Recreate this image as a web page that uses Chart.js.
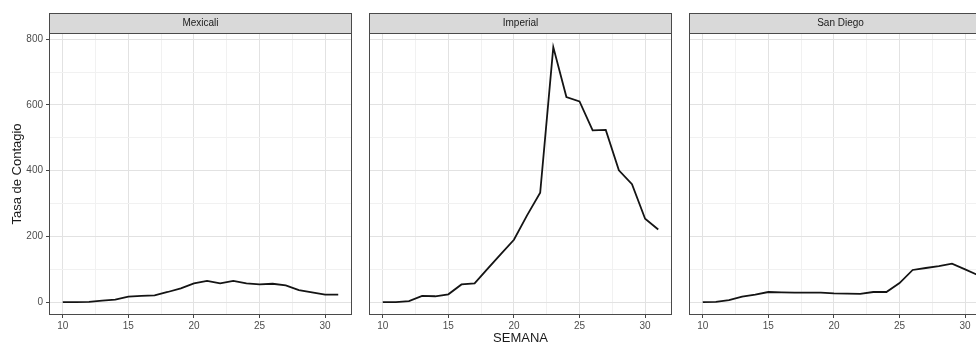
<!DOCTYPE html>
<html>
<head>
<meta charset="utf-8">
<script src="https://cdn.jsdelivr.net/npm/chart.js@4.4.1/dist/chart.umd.min.js"></script>
<style>
  html, body { margin: 0; padding: 0; background: #fff; overflow: hidden; width: 976px; height: 345px; }
  canvas { position: absolute; top: 0; }
</style>
</head>
<body>
<canvas id="panel-mexicali" width="360" height="345" style="left:0px"></canvas>
<canvas id="panel-imperial" width="320" height="345" style="left:360px"></canvas>
<canvas id="panel-sandiego" width="320" height="345" style="left:680px"></canvas>
<script>
// semanas epidemiologicas
var semanas = [10,11,12,13,14,15,16,17,18,19,20,21,22,23,24,25,26,27,28,29,30,31];
var mexicali = [0,0,1,5,8,17,19,21,31,42,57,65,57,65,57,54,56,51,37,30,23,23];
var imperial = [0,0,3,19,18,24,54,57,102,146,190,264,333,776,624,611,523,524,401,359,254,221];
var sanDiego = [0,1,6,17,23,31,30,29,29,29,27,26,25,31,31,58,98,104,110,117,100,82];

var panelNames = ['Mexicali','Imperial','San Diego'];
var xTicks = [10,15,20,25,30];
var yTicks = [0,200,400,600,800];
var yTitle = 'Tasa de Contagio';
var xTitle = 'SEMANA';

var X_MIN = 8.95, X_MAX = 32.05;
var Y_MIN = -39, Y_MAX = 819;
var FONT = '"Liberation Sans", Arial, sans-serif';

function withMinor(ticks){
  var out = [];
  var step = ticks[1] - ticks[0];
  for (var i = 0; i < ticks.length; i++) {
    out.push(ticks[i]);
    if (i < ticks.length - 1) out.push(ticks[i] + step/2);
  }
  return out;
}

function isMajor(list, v){
  return list.indexOf(v) !== -1;
}

var stripPlugin = {
  id: 'strip',
  afterDraw: function(chart){
    var ctx = chart.ctx;
    var a = chart.chartArea;
    var name = chart.options.plugins.strip.label;
    ctx.save();
    // strip
    ctx.fillStyle = '#d9d9d9';
    ctx.fillRect(a.left, 13, a.right - a.left, a.top - 13);
    ctx.strokeStyle = '#4a4a4a';
    ctx.lineWidth = 1;
    ctx.strokeRect(a.left + 0.5, 13.5, a.right - a.left - 1, a.top - 13);
    ctx.fillStyle = '#1a1a1a';
    ctx.font = '10px ' + FONT;
    ctx.textAlign = 'center';
    ctx.textBaseline = 'middle';
    ctx.fillText(name, (a.left + a.right)/2, (13 + a.top)/2 + 0.5);
    // panel border
    ctx.strokeRect(a.left + 0.5, a.top + 0.5, a.right - a.left - 1, a.bottom - a.top - 1);
    ctx.restore();
  }
};

function buildPanel(canvasId, name, values, showY, showXTitle, pad){
  var points = [];
  for (var i = 0; i < semanas.length; i++) {
    points.push({x: semanas[i], y: values[i]});
  }
  var xGrid = withMinor(xTicks);
  var yGrid = withMinor(yTicks);
  var tickFont = {family: FONT, size: 10};

  return new Chart(document.getElementById(canvasId), {
    type: 'line',
    data: {
      datasets: [{
        data: points,
        borderColor: '#141414',
        borderWidth: 1.8,
        pointRadius: 0,
        tension: 0,
        fill: false
      }]
    },
    plugins: [stripPlugin],
    options: {
      responsive: false,
      animation: false,
      events: [],
      layout: {padding: {left: pad.left, right: pad.right, top: 33, bottom: 0}},
      plugins: {
        legend: {display: false},
        tooltip: {enabled: false},
        strip: {label: name}
      },
      scales: {
        x: {
          type: 'linear',
          min: X_MIN,
          max: X_MAX,
          afterBuildTicks: function(scale){
            scale.ticks = xGrid.map(function(v){ return {value: v}; });
          },
          afterFit: function(scale){ scale.height = 30; },
          ticks: {
            autoSkip: false,
            maxRotation: 0,
            padding: 2,
            color: '#4d4d4d',
            font: tickFont,
            callback: function(v){ return isMajor(xTicks, v) ? String(v) : ''; }
          },
          grid: {
            drawTicks: true,
            tickLength: 3,
            color: function(c){ return isMajor(xTicks, c.tick.value) ? '#e2e2e2' : '#f1f1f1'; },
            tickColor: function(c){ return isMajor(xTicks, c.tick.value) ? '#444' : 'rgba(0,0,0,0)'; }
          },
          border: {display: false},
          title: {
            display: showXTitle,
            text: xTitle,
            color: '#1a1a1a',
            font: {family: FONT, size: 13},
            padding: {top: 0, bottom: -1}
          }
        },
        y: {
          type: 'linear',
          min: Y_MIN,
          max: Y_MAX,
          afterBuildTicks: function(scale){
            scale.ticks = yGrid.map(function(v){ return {value: v}; });
          },
          afterFit: function(scale){ scale.width = showY ? 49 : 0; },
          ticks: {
            display: showY,
            autoSkip: false,
            padding: 3,
            color: '#4d4d4d',
            font: tickFont,
            callback: function(v){ return isMajor(yTicks, v) ? String(v) : ''; }
          },
          grid: {
            drawTicks: showY,
            tickLength: 3,
            color: function(c){ return isMajor(yTicks, c.tick.value) ? '#e2e2e2' : '#f1f1f1'; },
            tickColor: function(c){ return isMajor(yTicks, c.tick.value) ? '#444' : 'rgba(0,0,0,0)'; }
          },
          border: {display: false},
          title: {
            display: showY,
            text: yTitle,
            color: '#1a1a1a',
            font: {family: FONT, size: 13},
            padding: {top: 10, bottom: 0}
          }
        }
      }
    }
  });
}

buildPanel('panel-mexicali', panelNames[0], mexicali, true, false, {left: 0, right: 8});
buildPanel('panel-imperial', panelNames[1], imperial, false, true, {left: 9, right: 8});
buildPanel('panel-sandiego', panelNames[2], sanDiego, false, false, {left: 9, right: 8});
</script>
</body>
</html>
